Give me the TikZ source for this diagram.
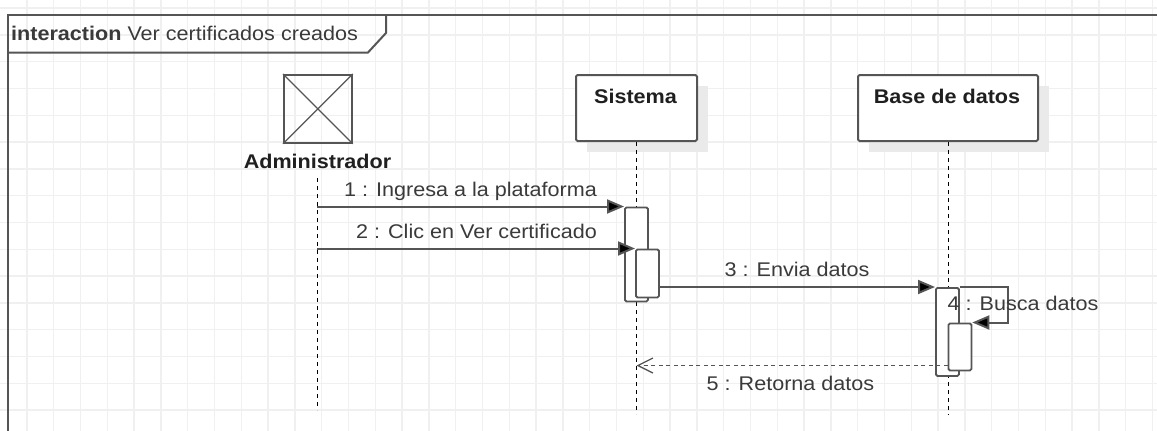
\documentclass[tikz,border=0pt]{standalone}
\usepackage{fontspec}
\setmainfont{Liberation Sans}[FakeStretch=1.09]
\usetikzlibrary{arrows.meta,calc}
\definecolor{gridc}{HTML}{F0F0F0}
\definecolor{linec}{HTML}{555555}
\definecolor{textc}{HTML}{3A3A3A}
\definecolor{shadc}{HTML}{EAEAEA}
\begin{document}
\begin{tikzpicture}[x=1pt,y=-1pt,
  txt/.style={font=\fontsize{19.8}{24}\selectfont, text=textc, inner sep=0pt},
  boldtxt/.style={font=\fontsize{19.8}{24}\selectfont\bfseries, text=black!88, inner sep=0pt},
  gridline/.style={draw=gridc, line width=1.4pt},
  frameline/.style={draw=linec, line width=2pt},
  objbox/.style={draw=linec, fill=white, line width=2pt, rounded corners=1.5pt, inner sep=0pt, anchor=north west},
  actbox/.style={draw=linec, line width=1.8pt, inner sep=0pt, anchor=north west, minimum width=68pt, minimum height=68pt},
  bar/.style={draw=linec, fill=white, line width=1.8pt, rounded corners=1.5pt, inner sep=0pt, anchor=north west, minimum width=23pt},
  lifeline/.style={draw=black, line width=1pt, dash pattern=on 4pt off 4pt},
  msg/.style={draw=linec, line width=2pt, -{Triangle[length=17pt,width=14pt,fill=black]}},
  ret/.style={draw=linec, line width=1.8pt, dash pattern=on 4pt off 3.5pt, -{Straight Barb[length=15pt,width=15pt,line width=1.3pt]}},
]
\useasboundingbox (0,0) rectangle (1157,431);
\fill[white] (0,0) rectangle (1157,431);
% grid
\foreach \k in {1,...,43} {\draw[gridline] (\k*26.8,0) -- (\k*26.8,431);}
\foreach \k in {0,...,15} {\draw[gridline] (0,8+\k*26.8) -- (1157,8+\k*26.8);}
% frame
\draw[frameline] (7.5,431) -- (7.5,15) -- (1157,15);
\draw[frameline] (7.5,52.5) -- (368,52.5) -- (386,33) -- (386,15);
\node[txt, anchor=base west] (title) at (11,40.5) {\textbf{interaction} Ver certificados creados};
% actor
\node[actbox] (adm) at (283,74) {};
\draw[draw=linec, line width=1.2pt] (adm.north west) -- (adm.south east) (adm.north east) -- (adm.south west);
\node[boldtxt, anchor=base] (admlab) at (317.5,168) {Administrador};
% objects
\fill[shadc] (587,86) rectangle (708,152);
\node[objbox, minimum width=121pt, minimum height=66pt] (sis) at (575,74) {};
\node[boldtxt, anchor=base] (sislab) at (635.5,103) {Sistema};
\fill[shadc] (869,86) rectangle (1049,152);
\node[objbox, minimum width=180pt, minimum height=66pt] (bd) at (857,74) {};
\node[boldtxt, anchor=base] (bdlab) at (947,103) {Base de datos};
% lifelines
\coordinate (admtop) at (317,178);
\coordinate (admend) at (317,410);
\coordinate (sisend) at (sis.south |- 0,414);
\coordinate (bdend) at (bd.south |- 0,415);
\draw[lifeline] (admtop) -- (admend);
\draw[lifeline] (sis.south) -- (sisend);
\draw[lifeline] (bd.south) -- (bdend);
% activation bars
\node[bar, minimum height=94pt] (s1) at (624,206.5) {};
\node[bar, minimum height=48pt] (s2) at (635,248.5) {};
\node[bar, minimum height=88pt] (b1) at (935,287) {};
\node[bar, minimum height=47pt] (b2) at (947.5,322.5) {};
% messages
\coordinate (m1) at (admtop |- s1.north);
\coordinate (m2) at (admtop |- s2.north);
\draw[msg] (m1) -- (s1.north west);
\draw[msg] (m2) -- (s2.north west);
\node[txt, anchor=base] (l1) at (470.5,196.5) {1 : Ingresa a la plataforma};
\node[txt, anchor=base] (l2) at (476.5,238) {2 : Clic en Ver certificado};
\draw[msg] (s2.east |- b1.north) -- (b1.north west);
\node[txt, anchor=base] (l3) at (797,276.5) {3 : Envia datos};
\coordinate (selfc) at (1008,287);
\draw[msg] (b1.north east) -- (selfc) |- (b2.north east);
\node[txt, anchor=base] (l4) at (1023,310.5) {4 : Busca datos};
\coordinate (m5) at (b2.west |- 0,365.5);
\draw[ret] (m5) -- (m5 -| sis.south);
\node[txt, anchor=base] (l5) at (790.5,390) {5 : Retorna datos};
\end{tikzpicture}
\end{document}
